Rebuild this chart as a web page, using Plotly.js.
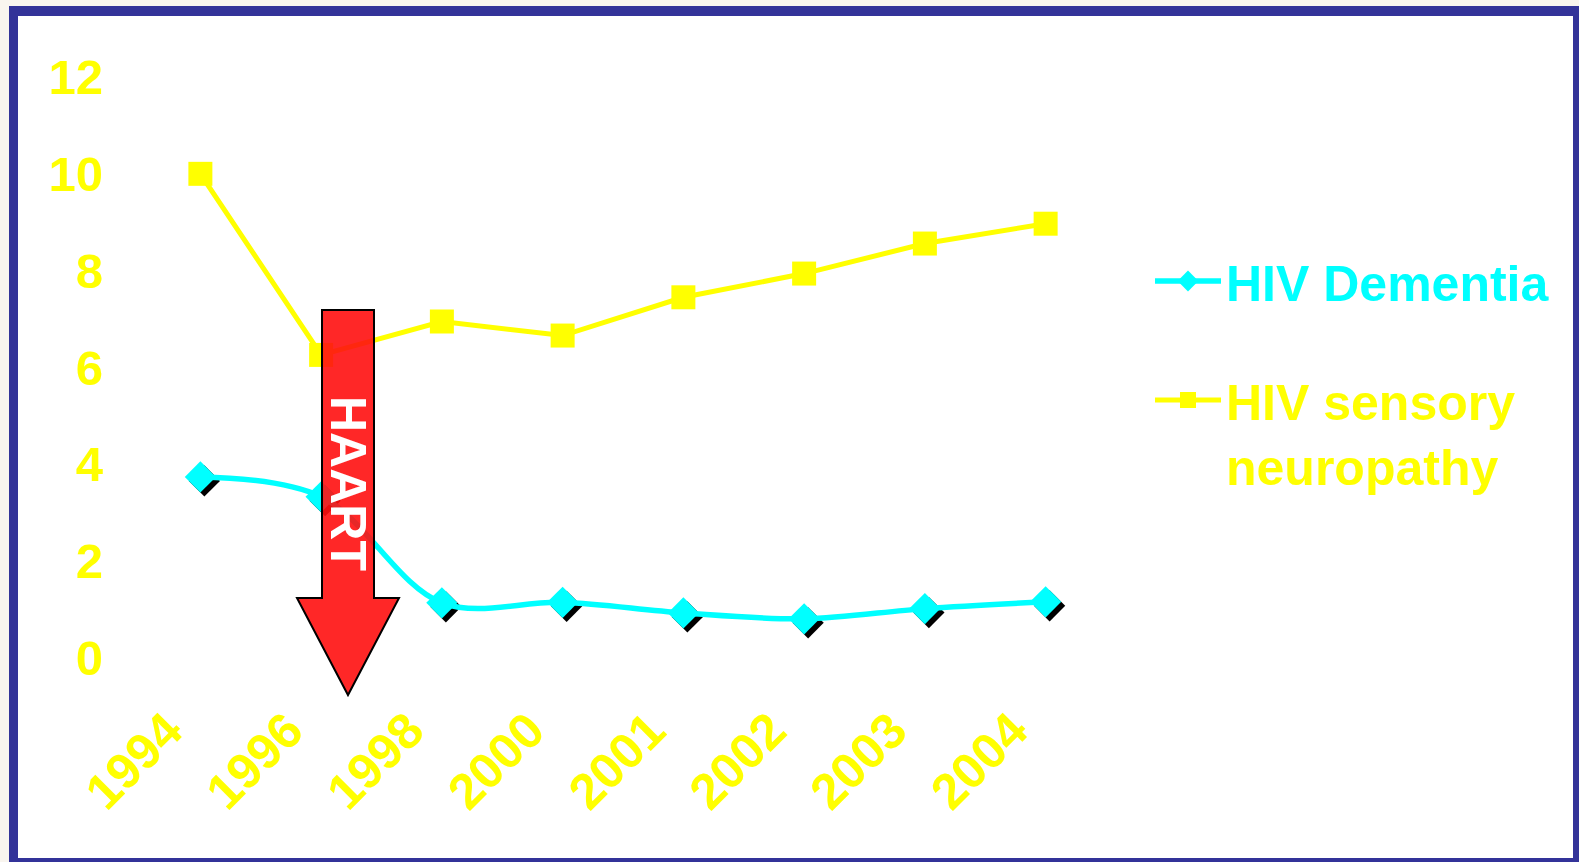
<!DOCTYPE html>
<html>
<head>
<meta charset="utf-8">
<script src="https://cdn.plot.ly/plotly-3.0.1.min.js"></script>
<style>html,body{margin:0;padding:0;background:#f9f5ef;}#chart{width:1579px;height:862px;}</style>
</head>
<body>
<div id="chart"></div>
<script>
// ---- data ----
const years = ["1994", "1996", "1998", "2000", "2001", "2002", "2003", "2004"];
const dementia = [3.74, 3.33, 1.14, 1.15, 0.93, 0.81, 1.02, 1.16];
const neuropathy = [10.0, 6.26, 6.95, 6.66, 7.45, 7.94, 8.56, 8.97];
const yTicks = [0, 2, 4, 6, 8, 10, 12];

// ---- layout geometry (pixels) ----
const FW = 1579, FH = 862;
const L = 140, R = 1106, T = 77, B = 658;
const W = R - L, H = B - T;
const px = x => (x - L) / W;
const py = y => (B - y) / H;

const FONT = "Liberation Sans, Arial, Helvetica, sans-serif";
const CYAN = "#00ffff", YEL = "#ffff00";

// shadow offset in pixels -> data units
const sdx = 4 / (W / years.length);
const sdy = 4 / (H / 12);

const shadow = {
  x: years, y: dementia, xaxis: "x", yaxis: "y",
  type: "scatter", mode: "markers", showlegend: false, hoverinfo: "skip",
  marker: {symbol: "diamond", size: 24, color: "#000000"}
};
const tDem = {
  x: years, y: dementia, xaxis: "x2", yaxis: "y2",
  type: "scatter", mode: "lines+markers", name: "HIV Dementia", legend: "legend",
  line: {color: CYAN, width: 5.5, shape: "spline", smoothing: 1},
  marker: {symbol: "diamond", size: 24, color: CYAN}
};
const tNeu = {
  x: years, y: neuropathy, xaxis: "x2", yaxis: "y2",
  type: "scatter", mode: "lines+markers", name: "HIV sensory<br>neuropathy", legend: "legend2",
  line: {color: YEL, width: 5},
  marker: {symbol: "square", size: 24, color: YEL}
};

const arrowPts = [[322,310],[374,310],[374,598],[399,598],[348,695],[297,598],[322,598]];
const arrowPath = "M" + arrowPts.map(p => px(p[0]).toFixed(5) + "," + py(p[1]).toFixed(5)).join(" L") + " Z";

const layout = {
  width: FW, height: FH,
  margin: {l: L, r: FW - R, t: T, b: FH - B, pad: 0},
  paper_bgcolor: "#f9f5ef",
  plot_bgcolor: "rgba(0,0,0,0)",
  font: {family: FONT},
  xaxis: {type: "category", categoryarray: years, range: [-0.5 - sdx, years.length - 0.5 - sdx],
          visible: false, fixedrange: true},
  yaxis: {range: [sdy, 12 + sdy], visible: false, fixedrange: true},
  xaxis2: {type: "category", categoryarray: years, overlaying: "x", anchor: "y2", side: "bottom",
           range: [-0.5, years.length - 0.5], showgrid: false, zeroline: false, showline: false,
           ticks: "", tickangle: -45, ticklabelstandoff: 32, ticklabelshift: -33,
           tickfont: {family: FONT, size: 50, color: YEL, weight: "bold"}},
  yaxis2: {overlaying: "y", anchor: "x2", side: "left", range: [0, 12],
           tickvals: yTicks, showgrid: false, zeroline: false, showline: false,
           ticks: "", ticklabelstandoff: 36,
           tickfont: {family: FONT, size: 49, color: YEL, weight: "bold"}},
  legend: {x: px(1150), y: py(281), xanchor: "left", yanchor: "middle",
           bgcolor: "rgba(0,0,0,0)", itemwidth: 66,
           font: {family: FONT, size: 50, color: CYAN, weight: "bold"}},
  legend2: {x: px(1150), y: py(361), xanchor: "left", yanchor: "top", valign: "top",
           bgcolor: "rgba(0,0,0,0)", itemwidth: 66,
           font: {family: FONT, size: 50, color: YEL, weight: "bold"}},
  shapes: [
    {type: "rect", xref: "paper", yref: "paper", layer: "below",
     x0: px(9), x1: px(FW + 5), y0: py(6), y1: py(FH + 5),
     fillcolor: "#333399", line: {width: 0}},
    {type: "rect", xref: "paper", yref: "paper", layer: "below",
     x0: px(18), x1: px(1573), y0: py(16), y1: py(858),
     fillcolor: "#ffffff", line: {width: 0}},
    {type: "path", xref: "paper", yref: "paper", layer: "above", path: arrowPath,
     fillcolor: "rgba(255,15,15,0.9)", line: {color: "#000000", width: 2}}
  ],
  annotations: [
    {xref: "paper", yref: "paper", x: px(348), y: py(483), text: "HAART", showarrow: false,
     textangle: 90, xanchor: "center", yanchor: "middle",
     font: {family: FONT, size: 50, color: "#ffffff", weight: "bold"}}
  ]
};

Plotly.newPlot("chart", [shadow, tDem, tNeu], layout, {displayModeBar: false, staticPlot: true});
</script>
</body>
</html>
